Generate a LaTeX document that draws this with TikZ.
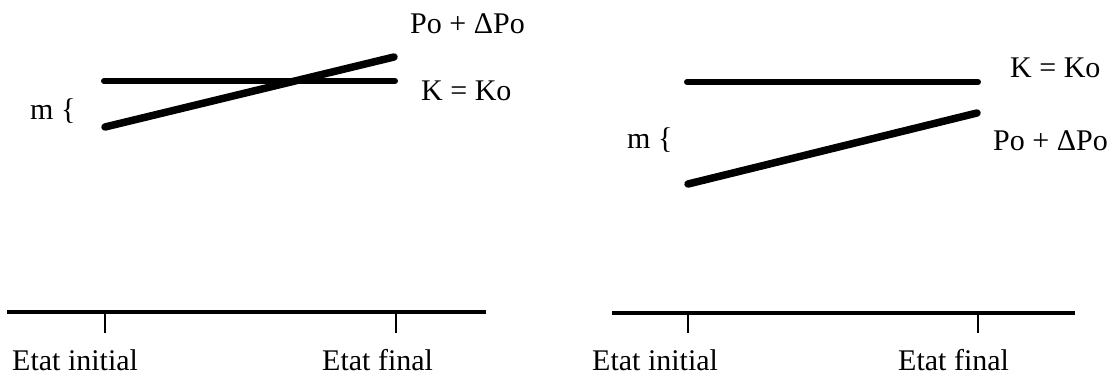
\documentclass[tikz,border=0pt]{standalone}
\usepackage{fontspec}
\setmainfont{Liberation Serif}
\usetikzlibrary{positioning}
\tikzset{
    kline/.style={draw, line width=6bp, line cap=round},
    pline/.style={draw, line width=7.5bp, line cap=round},
    timeline/.style={draw, line width=3.5bp},
    tickmark/.style={draw, line width=2.5bp},
    lab/.style={inner sep=0pt, anchor=base west, font=\fontsize{30bp}{36bp}\selectfont}
}
\begin{document}
\begin{tikzpicture}[x=1bp, y=-1bp]
    \useasboundingbox (0,0) rectangle (1114,376);
    % Left: Po + dPo crosses K = Ko
    \coordinate (k1a) at (104,81);
    \coordinate (k1b) at (395,81);
    \coordinate (p1a) at (105,127);
    \coordinate (p1b) at (394,57);
    \draw[kline] (k1a) -- (k1b);
    \draw[pline] (p1a) -- (p1b);
    \node[lab] (p1) at (410,33) {Po + ΔPo};
    \node[lab] (k1) at (421,100) {K = Ko};
    \node[lab] (m1) at (30,119) {m \{};
    % Left: time axis
    \coordinate (t1a) at (7,312);
    \coordinate (t1b) at (486,312);
    \coordinate (i1) at (105,312);
    \coordinate (f1) at (396,312);
    \draw[timeline] (t1a) -- (t1b);
    \draw[tickmark] (i1) -- +(0,21);
    \draw[tickmark] (f1) -- +(0,21);
    \node[lab] (ei1) at (12,370) {Etat initial};
    \node[lab] (ef1) at (322,370) {Etat final};
    % Right: Po + dPo stays below K = Ko
    \coordinate (k2a) at (687,82);
    \coordinate (k2b) at (978,82);
    \coordinate (p2a) at (688,184);
    \coordinate (p2b) at (977,113);
    \draw[kline] (k2a) -- (k2b);
    \draw[pline] (p2a) -- (p2b);
    \node[lab] (k2) at (1010,77) {K = Ko};
    \node[lab] (p2) at (993,150) {Po + ΔPo};
    \node[lab] (m2) at (627,148) {m \{};
    % Right: time axis
    \coordinate (t2a) at (612,313);
    \coordinate (t2b) at (1075,313);
    \coordinate (i2) at (688,313);
    \coordinate (f2) at (978,313);
    \draw[timeline] (t2a) -- (t2b);
    \draw[tickmark] (i2) -- +(0,20);
    \draw[tickmark] (f2) -- +(0,20);
    \node[lab] (ei2) at (592,370) {Etat initial};
    \node[lab] (ef2) at (898,370) {Etat final};
\end{tikzpicture}
\end{document}
